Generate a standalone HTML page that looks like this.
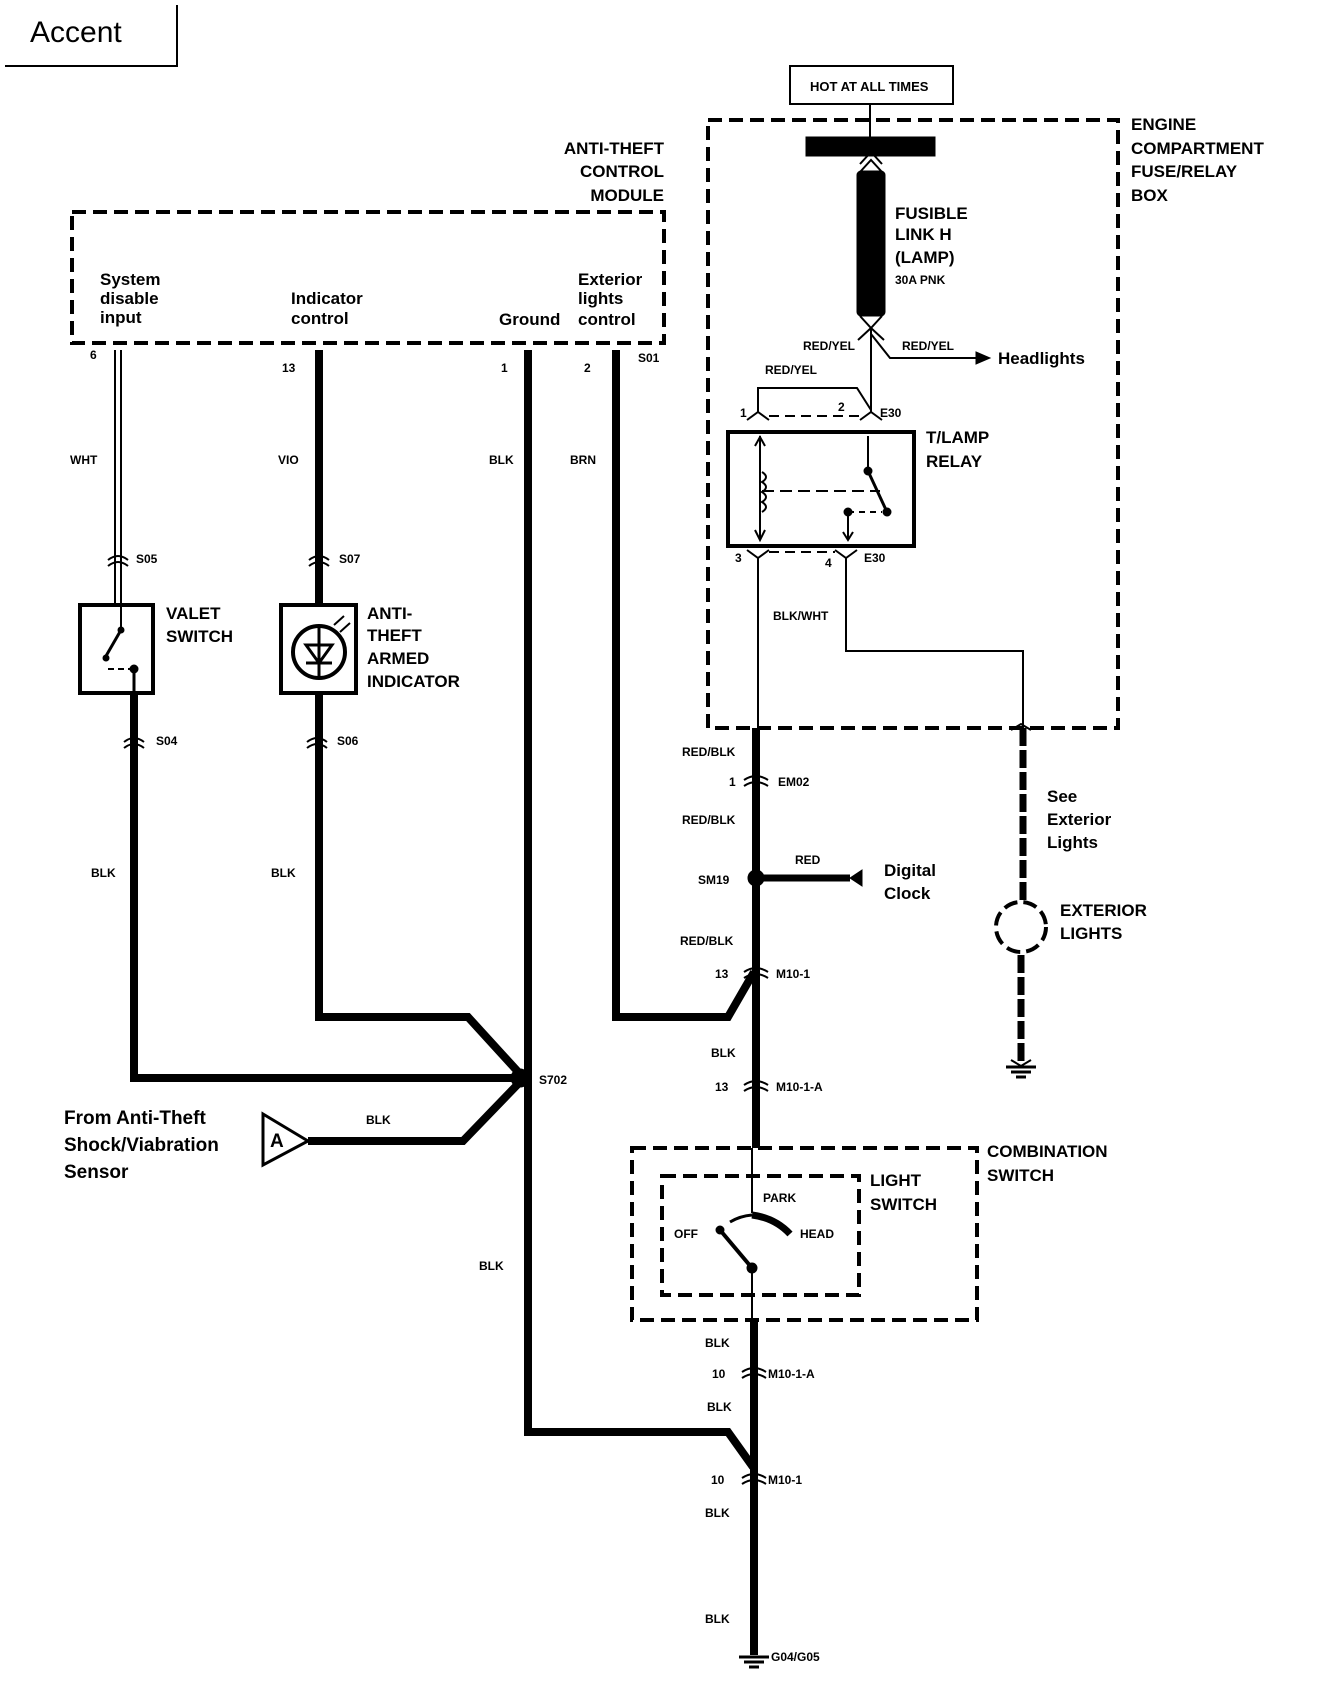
<!DOCTYPE html>
<html><head><meta charset="utf-8"><style>
html,body{margin:0;padding:0;background:#fff}
svg{display:block}
text{font-family:"Liberation Sans",sans-serif;font-weight:bold;fill:#000}
.s{font-size:12px}
.m{font-size:17px}
.l{font-size:19px}
</style></head><body>
<svg width="1328" height="1684" viewBox="0 0 1328 1684" xmlns="http://www.w3.org/2000/svg">
<g fill="none" stroke="#000">
<path d="M5 66 H177 V5" stroke-width="2"/>
<rect x="72" y="212" width="592" height="131" stroke-width="4" stroke-dasharray="14,7"/>
<rect x="708" y="120" width="410" height="608" stroke-width="4" stroke-dasharray="14,7"/>
<rect x="790" y="66" width="163" height="38" stroke-width="2"/>
<line x1="870" y1="104" x2="870" y2="137" stroke-width="2"/>
<rect x="632" y="1148" width="345" height="172" stroke-width="4" stroke-dasharray="14,7"/>
<rect x="662" y="1176" width="197" height="119" stroke-width="4" stroke-dasharray="14,7"/>

<line x1="115" y1="350" x2="115" y2="605" stroke-width="2"/>
<line x1="121" y1="350" x2="121" y2="605" stroke-width="2"/>
<line x1="319" y1="350" x2="319" y2="605" stroke-width="8"/>
<path d="M319 693 V1017 H468 L520 1074" stroke-width="8"/>
<path d="M134 693 V1078 H520" stroke-width="8"/>
<path d="M308 1141 H463 L520 1082" stroke-width="8"/>
<path d="M528 350 V1432 H728 L753 1467" stroke-width="8"/>
<path d="M616 350 V1017 H728 L754 972" stroke-width="8"/>
<line x1="756" y1="728" x2="756" y2="1148" stroke-width="8"/>
<line x1="752" y1="1148" x2="752" y2="1213" stroke-width="2"/>
<line x1="752" y1="1268" x2="752" y2="1320" stroke-width="2"/>
<line x1="754" y1="1320" x2="754" y2="1655" stroke-width="8"/>
<line x1="760" y1="878" x2="850" y2="878" stroke-width="7"/>
<path d="M752 1215 Q775 1218 790 1234" stroke-width="7"/>
<path d="M730 1222 Q740 1216 752 1215" stroke-width="3"/>
<line x1="720" y1="1230" x2="752" y2="1268" stroke-width="4"/>
<circle cx="720" cy="1230" r="4" fill="#000"/>
<circle cx="752" cy="1268" r="5" fill="#000"/>

<!-- fuse -->
<rect x="806" y="137" width="129" height="19" fill="#000"/>
<rect x="857" y="171" width="28" height="145" rx="4" fill="#000"/>
<path d="M860 172 L871 160 L882 172 M860 164 L871 152 L882 164" stroke-width="2"/>
<path d="M860 316 L871 328 L882 316" stroke-width="2"/>
<path d="M858 340 L871 328 L884 340" stroke-width="2"/>
<!-- relay wires -->
<line x1="871" y1="328" x2="871" y2="412" stroke-width="2"/>
<path d="M871 334 L890 358 H978" stroke-width="2"/>
<path d="M758 412 V388 H857 L871 410" stroke-width="2"/>
<path d="M747 420 L758 412 L769 420 M860 420 L871 412 L882 420" stroke-width="2"/>
<line x1="769" y1="416" x2="860" y2="416" stroke-width="2" stroke-dasharray="10,6"/>
<rect x="728" y="432" width="186" height="114" stroke-width="4"/>
<line x1="760" y1="436" x2="760" y2="540" stroke-width="2"/>
<path d="M755 530 L760 540 L765 530 M755 446 L760 437 L765 446" stroke-width="2"/>
<path d="M762 472 q8 5 0 10 q8 5 0 10 q8 5 0 10 q8 5 0 10" stroke-width="2"/>
<line x1="762" y1="491" x2="880" y2="491" stroke-width="2" stroke-dasharray="12,6"/>
<line x1="868" y1="436" x2="868" y2="471" stroke-width="2"/>
<line x1="868" y1="471" x2="887" y2="512" stroke-width="3"/>
<circle cx="868" cy="471" r="4" fill="#000"/>
<circle cx="887" cy="512" r="4" fill="#000"/>
<line x1="848" y1="512" x2="882" y2="512" stroke-width="2" stroke-dasharray="6,5"/>
<line x1="848" y1="512" x2="848" y2="540" stroke-width="2"/>
<circle cx="848" cy="512" r="4" fill="#000"/>
<path d="M843 532 L848 540 L853 532" stroke-width="2"/>
<path d="M747 550 L758 558 L769 550 M835 550 L846 558 L857 550" stroke-width="2"/>
<line x1="769" y1="552" x2="835" y2="552" stroke-width="2" stroke-dasharray="10,6"/>
<line x1="758" y1="558" x2="758" y2="728" stroke-width="2"/>
<path d="M846 558 V651 H1023 V728" stroke-width="2"/>

<line x1="1023" y1="728" x2="1023" y2="900" stroke-width="7" stroke-dasharray="18,4"/>
<circle cx="1021" cy="927" r="25" stroke-width="4" stroke-dasharray="14,6"/>
<line x1="1021" y1="955" x2="1021" y2="1065" stroke-width="7" stroke-dasharray="18,4"/>

<rect x="80" y="605" width="73" height="88" stroke-width="4"/>
<line x1="121" y1="605" x2="121" y2="630" stroke-width="2"/>
<line x1="121" y1="630" x2="106" y2="656" stroke-width="3"/>
<circle cx="121" cy="630" r="3" fill="#000"/>
<circle cx="106" cy="658" r="3" fill="#000"/>
<line x1="108" y1="669" x2="134" y2="669" stroke-width="2" stroke-dasharray="6,4"/>
<circle cx="134" cy="669" r="4" fill="#000"/>
<line x1="134" y1="669" x2="134" y2="693" stroke-width="3"/>
<rect x="281" y="605" width="75" height="88" stroke-width="4"/>
<circle cx="319" cy="652" r="26" stroke-width="4"/>
<path d="M306 645 H332 L319 663 Z M306 663 H332" stroke-width="3"/>
<line x1="319" y1="626" x2="319" y2="678" stroke-width="3"/>
<path d="M334 625 l10 -9 M340 632 l10 -9" stroke-width="2"/>
<g stroke-width="2">
<path d="M108 560 q10 -8 20 0 M108 566 q10 -8 20 0"/>
<path d="M309 560 q10 -8 20 0 M309 566 q10 -8 20 0"/>
<path d="M124 742 q10 -8 20 0 M124 748 q10 -8 20 0"/>
<path d="M307 742 q10 -8 20 0 M307 748 q10 -8 20 0"/>
<path d="M744 780 q12 -8 24 0 M744 786 q12 -8 24 0"/>
<path d="M744 972 q12 -8 24 0 M744 978 q12 -8 24 0"/>
<path d="M744 1085 q12 -8 24 0 M744 1091 q12 -8 24 0"/>
<path d="M742 1372 q12 -8 24 0 M742 1378 q12 -8 24 0"/>
<path d="M742 1478 q12 -8 24 0 M742 1484 q12 -8 24 0"/>
<path d="M1011 730 l10 -6 l10 6 M1011 1060 l10 6 l10 -6"/>
</g>
<circle cx="756" cy="878" r="8" fill="#000"/>
<circle cx="520" cy="1078" r="9" fill="#000"/>
<path d="M850 878 L862 870 V886 Z" fill="#000"/>
<path d="M976 352 L990 358 L976 364 Z" fill="#000"/>
<path d="M263 1114 V1165 L308 1141 Z" stroke-width="3"/>
<path d="M1006 1067 H1036 M1011 1072 H1031 M1016 1077 H1026" stroke-width="3"/>
<path d="M739 1657 H769 M744 1662 H764 M749 1667 H759" stroke-width="3"/>
</g>
<text x="30" y="42" style="font-size:30px;font-weight:normal">Accent</text>
<g text-anchor="end" class="m"><text x="664" y="154">ANTI-THEFT</text><text x="664" y="177">CONTROL</text><text x="664" y="201">MODULE</text></g>
<g class="m" style="font-weight:normal">
<text x="100" y="285">System</text><text x="100" y="304">disable</text><text x="100" y="323">input</text>
<text x="291" y="304">Indicator</text><text x="291" y="324">control</text>
<text x="499" y="325">Ground</text>
<text x="578" y="285">Exterior</text><text x="578" y="304">lights</text><text x="578" y="325">control</text>
<text x="998" y="364">Headlights</text>
<text x="884" y="876">Digital</text><text x="884" y="899">Clock</text>
<text x="1047" y="802">See</text><text x="1047" y="825">Exterior</text><text x="1047" y="848">Lights</text>
</g>
<g class="s">
<text x="90" y="359">6</text><text x="282" y="372">13</text><text x="501" y="372">1</text><text x="584" y="372">2</text><text x="638" y="362">S01</text>
<text x="70" y="464">WHT</text><text x="278" y="464">VIO</text><text x="489" y="464">BLK</text><text x="570" y="464">BRN</text>
<text x="136" y="563">S05</text><text x="339" y="563">S07</text><text x="156" y="745">S04</text><text x="337" y="745">S06</text>
<text x="91" y="877">BLK</text><text x="271" y="877">BLK</text>
<text x="539" y="1084">S702</text><text x="366" y="1124">BLK</text><text x="479" y="1270">BLK</text>
<text x="803" y="350">RED/YEL</text><text x="902" y="350">RED/YEL</text><text x="765" y="374">RED/YEL</text>
<text x="740" y="417">1</text><text x="838" y="411">2</text><text x="880" y="417">E30</text>
<text x="735" y="562">3</text><text x="825" y="567">4</text><text x="864" y="562">E30</text>
<text x="773" y="620">BLK/WHT</text>
<text x="682" y="756">RED/BLK</text><text x="729" y="786">1</text><text x="778" y="786">EM02</text>
<text x="682" y="824">RED/BLK</text><text x="698" y="884">SM19</text><text x="795" y="864">RED</text>
<text x="680" y="945">RED/BLK</text><text x="715" y="978">13</text><text x="776" y="978">M10-1</text>
<text x="711" y="1057">BLK</text><text x="715" y="1091">13</text><text x="776" y="1091">M10-1-A</text>
<text x="763" y="1202">PARK</text><text x="674" y="1238">OFF</text><text x="800" y="1238">HEAD</text>
<text x="705" y="1347">BLK</text><text x="712" y="1378">10</text><text x="768" y="1378">M10-1-A</text>
<text x="707" y="1411">BLK</text><text x="711" y="1484">10</text><text x="768" y="1484">M10-1</text>
<text x="705" y="1517">BLK</text><text x="705" y="1623">BLK</text><text x="771" y="1661">G04/G05</text>
<text x="895" y="284">30A PNK</text>
<text x="810" y="91" style="font-size:13px">HOT AT ALL TIMES</text>
</g>
<g class="m">
<text x="895" y="219">FUSIBLE</text><text x="895" y="240">LINK H</text><text x="895" y="263">(LAMP)</text>
<text x="926" y="443">T/LAMP</text><text x="926" y="467">RELAY</text>
<text x="1131" y="130">ENGINE</text><text x="1131" y="154">COMPARTMENT</text><text x="1131" y="177">FUSE/RELAY</text><text x="1131" y="201">BOX</text>
<text x="166" y="619">VALET</text><text x="166" y="642">SWITCH</text>
<text x="367" y="619">ANTI-</text><text x="367" y="641">THEFT</text><text x="367" y="664">ARMED</text><text x="367" y="687">INDICATOR</text>
<text x="1060" y="916">EXTERIOR</text><text x="1060" y="939">LIGHTS</text>
<text x="987" y="1157">COMBINATION</text><text x="987" y="1181">SWITCH</text>
<text x="870" y="1186">LIGHT</text><text x="870" y="1210">SWITCH</text>
<text x="64" y="1124" class="l">From Anti-Theft</text><text x="64" y="1151" class="l">Shock/Viabration</text><text x="64" y="1178" class="l">Sensor</text>
<text x="270" y="1147" class="l">A</text>
</g>
</svg>
</body></html>
